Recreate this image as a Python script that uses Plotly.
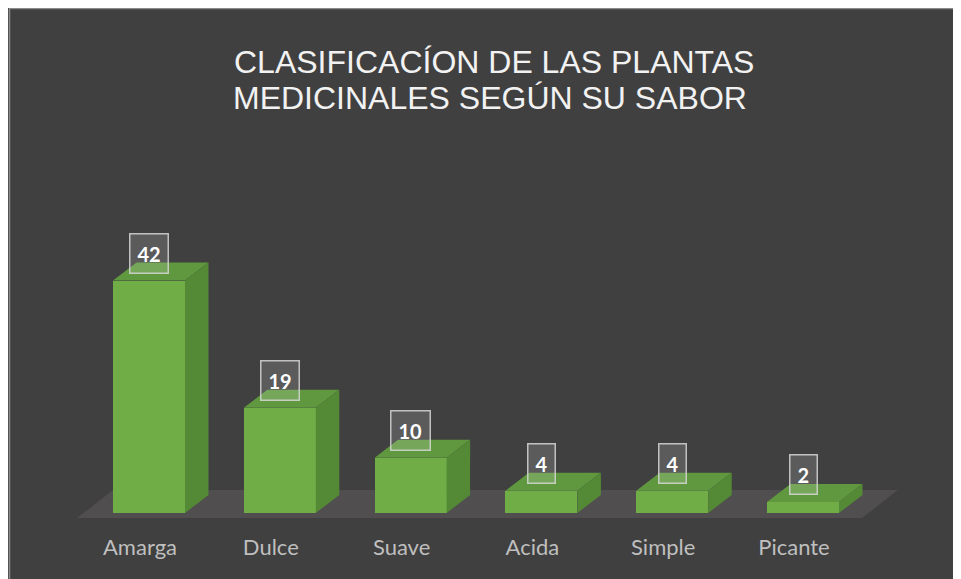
import plotly.graph_objects as go

# ---- data ----
categories = ["Amarga", "Dulce", "Suave", "Acida", "Simple", "Picante"]
values = [42, 19, 10, 4, 4, 2]
title_lines = ["CLASIFICACÍON DE LAS PLANTAS", "MEDICINALES SEGÚN SU SABOR"]

# ---- layout geometry (figure pixels; page adds an 8px body margin) ----
OFF = 8
W, H = 961 - OFF, 579 - OFF
L, R, T, B = 52, 32, 142, 54
PW, PH = W - L - R, H - T - B
X_FIRST_PX = 149.0 - OFF    # pixel of first category centre
X_STEP_PX = 130.8           # pixels per category
Y_ZERO_PX = 513.0 - OFF     # pixel of value 0
Y_UNIT_PX = 5.535           # pixels per value unit
LABEL_SHIFT_PX = 9.0        # category labels sit a bit left (perspective)

x0 = -(X_FIRST_PX - L) / X_STEP_PX
x1 = x0 + PW / X_STEP_PX
y0 = -((H - B) - Y_ZERO_PX) / Y_UNIT_PX
y1 = y0 + PH / Y_UNIT_PX

def px_x(px):
    return (px - OFF - L) / PW

def px_y(py):
    return ((H - B) - (py - OFF)) / PH

BAR_W = 72 / X_STEP_PX
DX = 23.5 / X_STEP_PX
DY = 18 / Y_UNIT_PX

FRONT = "#70AD47"
TOP = "#5F983E"
SIDE = "#548A36"

idx = list(range(len(categories)))

fig = go.Figure()

# front faces
fig.add_trace(go.Bar(
    x=idx, y=values, width=BAR_W, marker=dict(color=FRONT, line=dict(width=0)),
    hoverinfo="skip", showlegend=False,
))

# top and side faces (derived from the values)
for i, v in zip(idx, values):
    xl, xr = i - BAR_W / 2, i + BAR_W / 2
    fig.add_trace(go.Scatter(
        x=[xl, xr, xr + DX, xl + DX, xl], y=[v, v, v + DY, v + DY, v],
        fill="toself", fillcolor=TOP, mode="lines", line=dict(width=0, color=TOP),
        hoverinfo="skip", showlegend=False,
    ))
    fig.add_trace(go.Scatter(
        x=[xr, xr, xr + DX, xr + DX, xr], y=[0, v, v + DY, DY, 0],
        fill="toself", fillcolor=SIDE, mode="lines", line=dict(width=0, color=SIDE),
        hoverinfo="skip", showlegend=False,
    ))

# invisible trace so the label axis exists
fig.add_trace(go.Scatter(
    x=idx, y=[0] * len(idx), xaxis="x2", mode="markers",
    marker=dict(opacity=0), hoverinfo="skip", showlegend=False,
))

# value labels
for i, v in zip(idx, values):
    fig.add_annotation(
        x=i, y=v, xref="x", yref="y", text=f"<b>{v}</b>", showarrow=False,
        yshift=27.5, yanchor="middle",
        font=dict(family="Lato", size=20, color="#FFFFFF"),
        bgcolor="rgba(255,255,255,0.14)", bordercolor="rgba(215,215,215,0.85)",
        borderwidth=1.5, borderpad=7,
    )

# title
for line, cx, cy in zip(title_lines, [494, 490], [62, 97.5]):
    fig.add_annotation(
        x=px_x(cx), y=px_y(cy), xref="paper", yref="paper", text=line,
        showarrow=False, xanchor="center", yanchor="middle",
        font=dict(family="Liberation Sans", size=32, color="#F2F2F2"),
    )

# floor (in data space)
floor_front = -5 / Y_UNIT_PX
floor_back = 23 / Y_UNIT_PX
fl_front_l = (77 - OFF - X_FIRST_PX) / X_STEP_PX
fl_front_r = (862 - OFF - X_FIRST_PX) / X_STEP_PX
fl_back_r = (898 - OFF - X_FIRST_PX) / X_STEP_PX
fl_back_l = (113 - OFF - X_FIRST_PX) / X_STEP_PX

shapes = [
    dict(type="rect", xref="paper", yref="paper", layer="below",
         x0=px_x(9.5), x1=px_x(961 + 5), y0=px_y(579 + 5), y1=px_y(8.5),
         fillcolor="#404040", line=dict(color="#8A8A8A", width=1.5)),
    dict(type="path", xref="x", yref="y", layer="below",
         path=(f"M {fl_front_l},{floor_front} L {fl_front_r},{floor_front} "
               f"L {fl_back_r},{floor_back} L {fl_back_l},{floor_back} Z"),
         fillcolor="#504E4F", line=dict(width=0)),
]

fig.update_layout(
    width=W, height=H,
    margin=dict(l=L, r=R, t=T, b=B),
    paper_bgcolor="#404040", plot_bgcolor="rgba(0,0,0,0)",
    shapes=shapes, showlegend=False, bargap=0,
    xaxis=dict(range=[x0, x1], showgrid=False, zeroline=False, showline=False,
               showticklabels=False, ticks="", fixedrange=True),
    xaxis2=dict(range=[x0 + LABEL_SHIFT_PX / X_STEP_PX, x1 + LABEL_SHIFT_PX / X_STEP_PX],
                overlaying="x", anchor="y", side="bottom",
                tickmode="array", tickvals=idx, ticktext=categories,
                showgrid=False, zeroline=False, showline=False,
                ticks="outside", ticklen=3, tickcolor="rgba(0,0,0,0)",
                tickfont=dict(family="Lato", size=22, color="#BFBFBF")),
    yaxis=dict(range=[y0, y1], showgrid=False, zeroline=False, showline=False,
               showticklabels=False, ticks=""),
)

fig.write_html("out.html")
